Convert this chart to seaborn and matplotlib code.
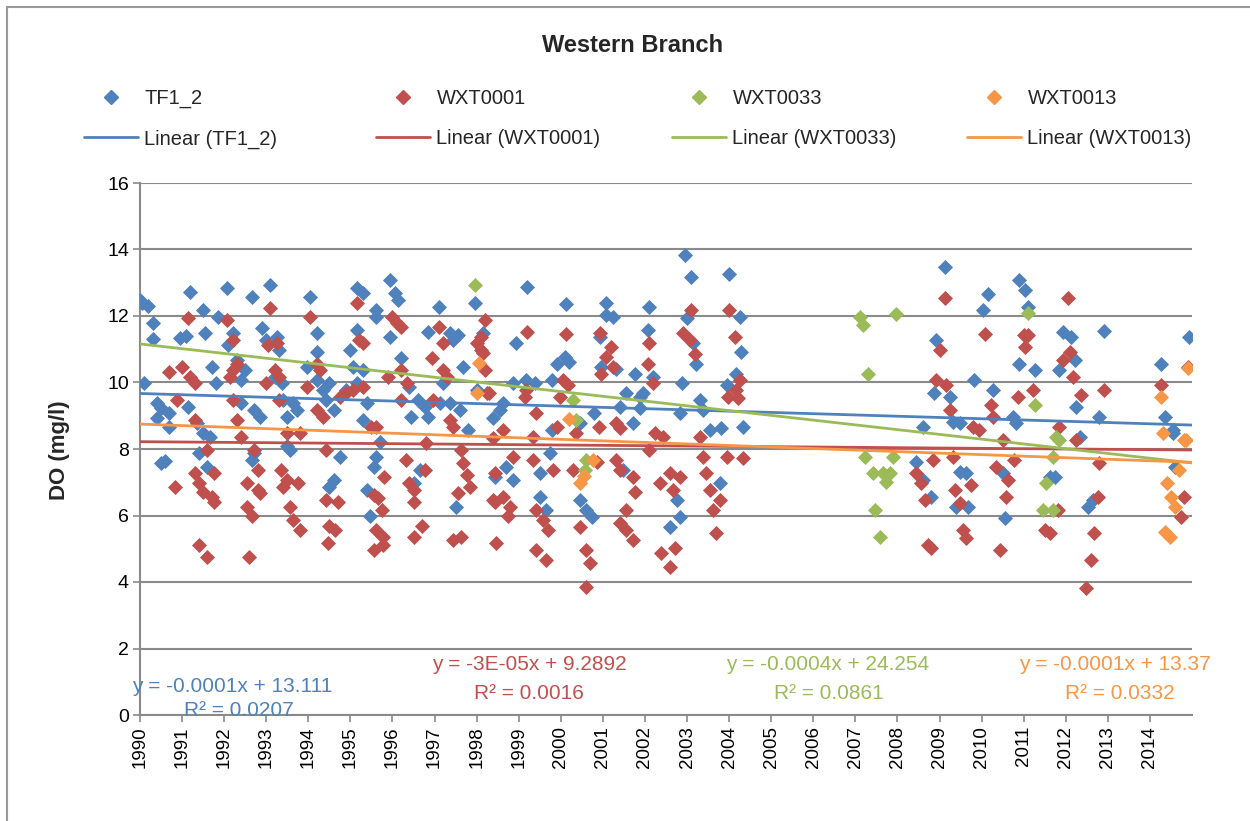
import numpy as np
import pandas as pd
import matplotlib
matplotlib.use("Agg")
import matplotlib.pyplot as plt
from matplotlib.lines import Line2D
import seaborn as sns

# ---------------- data (decimal year, DO mg/l) ----------------
tf1_2_x = [1990.0, 1990.05, 1990.2, 1990.3, 1990.3, 1990.1, 1990.4, 1990.5, 1990.7, 1990.4, 1990.7, 1990.5, 1990.6,
           1991.2, 1991.5, 1991.55, 1990.95, 1991.1, 1991.7, 1991.15, 1991.35, 1991.5, 1991.66, 1991.8, 1991.4, 1991.6,
           1992.06, 1991.86, 1992.2, 1992.1, 1992.3, 1992.5, 1992.4, 1992.4, 1992.7, 1992.85, 1992.7, 1992.65,
           1992.65, 1993.1, 1992.9, 1993.0, 1993.25, 1993.3, 1993.2, 1993.37, 1993.4, 1993.64, 1993.72, 1993.5, 1993.56, 1993.5,
           1994.04, 1994.2, 1994.2, 1993.96, 1994.2, 1994.35, 1994.43, 1994.6, 1994.5, 1994.6, 1994.5, 1994.75,
           1995.15, 1995.3, 1995.15, 1995.0, 1995.06, 1995.3, 1995.15, 1994.9, 1995.4, 1995.3, 1995.6, 1995.55, 1995.4, 1995.47, 1995.7,
           1995.6, 1995.6, 1995.94, 1996.06, 1996.14, 1995.94, 1996.2, 1996.4, 1996.45, 1996.6, 1996.77, 1996.85, 1996.65, 1996.5,
           1997.1, 1996.85, 1997.36, 1997.56, 1997.44, 1997.2, 1997.36, 1997.6, 1997.13, 1997.68, 1997.8, 1997.52,
           1997.96, 1998.15, 1998.0, 1998.4, 1998.43, 1998.7, 1998.87,
           1998.55, 1998.63, 1998.87, 1998.93, 1999.2, 1999.18, 1999.38, 1999.78, 1999.78, 1999.5, 1999.74, 1999.5, 1999.66,
           1999.9, 2000.1, 2000.2, 2000.12, 2000.45, 2000.8, 2000.45, 2000.61, 2000.73,
           2000.93, 2000.96, 2001.08, 2001.08, 2001.24, 2001.32, 2001.4, 2001.56, 2001.72, 2001.76, 2001.48,
           2001.88, 2001.96, 2001.88, 2002.07, 2002.1, 2002.2, 2002.75, 2002.83, 2002.59,
           2002.83, 2002.87, 2002.95, 2003.0, 2003.1, 2003.14, 2003.22, 2003.3, 2003.38, 2003.54, 2003.8, 2003.78,
           2003.94, 2004.0, 2004.17, 2004.25, 2004.29, 2004.33,
           2008.6, 2008.45, 2008.6, 2008.8, 2008.88, 2008.92, 2009.12, 2009.24, 2009.32, 2009.48, 2009.48, 2009.64, 2009.4, 2009.68,
           2009.83, 2010.03, 2010.15, 2010.27, 2010.51, 2010.55, 2010.74, 2010.82, 2010.9, 2010.9, 2011.02, 2011.1, 2011.26,
           2011.62, 2011.74, 2011.85, 2011.93, 2012.13, 2012.21, 2012.25, 2012.33, 2012.53, 2012.65, 2012.8, 2012.92,
           2014.27, 2014.35, 2014.55, 2014.59, 2014.55, 2014.94]
tf1_2_y = [12.48, 12.4, 12.3, 11.8, 11.3, 9.97, 9.37, 9.22, 9.07, 8.92, 8.67, 7.57, 7.65,
           12.73, 12.18, 11.48, 11.33, 11.4, 10.48, 9.27, 8.77, 8.47, 8.37, 9.97, 7.87, 7.47,
           12.83, 11.98, 11.48, 11.13, 10.67, 10.37, 10.07, 9.37, 9.17, 8.97, 7.87, 7.67,
           12.58, 12.93, 11.63, 11.28, 11.38, 10.98, 10.17, 9.97, 9.47, 9.37, 9.17, 8.97, 7.97, 8.1,
           12.58, 11.48, 10.93, 10.48, 10.07, 9.77, 9.47, 9.17, 9.97, 7.07, 6.87, 7.77,
           12.83, 12.68, 11.58, 10.98, 10.48, 10.37, 9.97, 9.77, 9.37, 8.87, 7.77, 7.47, 6.77, 5.97, 8.22,
           12.18, 11.98, 13.08, 12.68, 12.48, 11.38, 10.73, 9.87, 8.97, 9.47, 9.27, 8.97, 7.37, 6.97,
           12.28, 11.53, 11.48, 11.43, 11.28, 9.97, 9.37, 9.17, 9.37, 10.48, 8.57, 6.27,
           12.38, 11.48, 9.77, 8.92, 7.17, 7.47, 7.07,
           9.17, 9.37, 9.97, 11.18, 12.86, 10.07, 9.97, 10.07, 8.57, 7.27, 7.87, 6.57, 6.17,
           10.57, 10.77, 10.63, 12.36, 8.77, 9.07, 6.47, 6.17, 5.96,
           11.38, 10.48, 12.38, 12.03, 11.98, 10.42, 9.27, 9.67, 8.77, 10.27, 7.37,
           9.57, 9.67, 9.22, 11.58, 12.26, 10.17, 6.47, 5.96, 5.66,
           9.07, 9.97, 13.83, 11.93, 13.16, 11.18, 10.57, 9.47, 9.17, 8.57, 8.62, 6.97,
           9.92, 13.26, 10.27, 11.98, 10.93, 8.67,
           8.67, 7.62, 7.07, 6.57, 9.67, 11.28, 13.48, 9.57, 8.82, 8.77, 7.32, 7.27, 6.27, 6.27,
           10.07, 12.18, 12.66, 9.77, 7.27, 5.91, 8.97, 8.77, 13.08, 10.57, 12.78, 12.28, 10.37,
           7.17, 7.17, 10.37, 11.53, 11.38, 10.67, 9.27, 8.37, 6.27, 6.47, 8.97, 11.55,
           10.57, 8.97, 8.57, 7.47, 8.47, 11.38]

wxt0001_x = [1990.7, 1991.0, 1991.2, 1991.3, 1990.87, 1991.3, 1991.15, 1990.83, 1991.3, 1991.4, 1991.5, 1991.6, 1991.75, 1991.7, 1991.75, 1991.4, 1991.6,
             1992.06, 1992.2, 1992.2, 1992.3, 1992.14, 1992.2, 1992.3, 1992.4, 1992.7, 1992.8, 1992.55, 1992.8, 1992.85, 1992.55, 1992.65, 1992.6,
             1993.1, 1993.05, 1993.25, 1993.2, 1993.3, 1993.0, 1993.3, 1993.5, 1993.8, 1993.96, 1993.36, 1993.5, 1993.4, 1993.76, 1993.56, 1993.64, 1993.8,
             1994.04, 1994.2, 1994.27, 1994.2, 1994.35, 1994.75, 1994.9, 1994.43, 1994.43, 1994.7, 1994.5, 1994.63, 1994.47,
             1995.06, 1995.3, 1995.15, 1995.2, 1995.3, 1995.5, 1995.6, 1995.55, 1995.66, 1995.74, 1995.62, 1995.78, 1995.55, 1995.78, 1995.8,
             1995.9, 1996.0, 1996.1, 1996.2, 1996.2, 1996.2, 1996.35, 1996.33, 1996.4, 1996.5, 1996.5, 1996.7, 1996.5, 1996.77, 1996.8,
             1996.97, 1996.93, 1997.1, 1997.2, 1997.2, 1997.3, 1997.36, 1997.44, 1997.64, 1997.68, 1997.76, 1997.56, 1997.84, 1997.44, 1997.64,
             1998.0, 1998.1, 1998.2, 1998.15, 1998.2, 1998.25, 1998.1, 1998.3, 1998.43, 1998.47, 1998.4, 1998.87, 1998.43, 1998.4, 1998.63, 1998.79, 1998.75, 1998.63,
             1999.2, 1999.15, 1999.42, 1999.18, 1999.34, 1999.34, 1999.82, 1999.42, 1999.58, 1999.7, 1999.42, 1999.66,
             2000.12, 2000.06, 2000.18, 1999.98, 1999.9, 2000.37, 2000.29, 2000.45, 2000.61, 2000.69, 2000.61, 2000.85,
             2000.93, 2001.2, 2001.08, 2001.24, 2000.96, 2000.9, 2001.32, 2001.4, 2001.32, 2001.4, 2001.72, 2001.76, 2001.56, 2001.4, 2001.56, 2001.72,
             2002.1, 2002.07, 2002.2, 2002.23, 2002.43, 2002.1, 2002.35, 2002.59, 2002.83, 2002.67, 2002.39, 2002.71, 2002.59,
             2003.1, 2002.9, 2003.06, 2003.18, 2003.3, 2003.38, 2003.46, 2003.54, 2003.78, 2003.62, 2003.7,
             2004.0, 2004.13, 2004.25, 2004.17, 2003.98, 2004.21, 2003.94, 2004.33,
             2008.45, 2008.57, 2008.65, 2008.73, 2008.8, 2008.84, 2008.92, 2009.0, 2009.12, 2009.16, 2009.24, 2009.32, 2009.36, 2009.48, 2009.56, 2009.64, 2009.75, 2009.79, 2009.95,
             2010.07, 2010.23, 2010.27, 2010.35, 2010.43, 2010.59, 2010.62, 2010.78, 2010.51, 2010.86, 2011.0, 2011.1, 2011.02, 2011.22,
             2011.5, 2011.62, 2011.82, 2011.85, 2011.93, 2012.05, 2012.09, 2012.17, 2012.25, 2012.37, 2012.68, 2012.6, 2012.49, 2012.77, 2012.8, 2012.92,
             2014.27, 2014.74, 2014.82, 2014.9]
wxt0001_y = [10.33, 10.48, 10.17, 9.97, 9.47, 8.87, 11.93, 6.87, 7.27, 6.97, 6.72, 7.97, 7.27, 6.57, 6.42, 5.11, 4.76,
             11.88, 11.28, 10.37, 10.57, 10.17, 9.47, 8.87, 8.37, 7.97, 7.37, 6.97, 6.77, 6.67, 6.27, 5.97, 4.76,
             12.23, 11.13, 11.18, 10.37, 10.17, 9.97, 9.47, 8.47, 8.47, 9.87, 7.37, 7.07, 6.87, 6.97, 6.27, 5.87, 5.57,
             11.98, 10.57, 10.37, 9.17, 8.97, 9.57, 9.67, 7.97, 6.47, 6.42, 5.67, 5.57, 5.16,
             9.77, 9.87, 12.38, 11.28, 11.18, 8.67, 8.67, 6.61, 6.52, 6.17, 5.56, 5.36, 4.96, 5.11, 7.17,
             10.17, 11.98, 11.78, 11.68, 10.37, 9.47, 9.97, 7.67, 6.97, 6.77, 6.42, 5.67, 5.36, 7.37, 8.17,
             9.47, 10.73, 11.68, 11.18, 10.37, 10.17, 8.87, 8.67, 7.97, 7.57, 7.22, 6.67, 6.87, 5.26, 5.36,
             11.18, 11.38, 11.88, 10.88, 10.37, 9.67, 10.98, 9.67, 6.42, 5.16, 8.32, 7.77, 7.27, 6.47, 6.57, 6.27, 5.97, 8.57,
             11.53, 9.57, 9.07, 9.77, 8.37, 7.67, 7.37, 6.17, 5.87, 5.56, 4.96, 4.66,
             11.46, 10.07, 9.92, 9.57, 8.67, 8.47, 7.37, 5.66, 4.96, 4.56, 3.86, 7.62,
             11.48, 11.08, 10.77, 10.48, 10.27, 8.67, 8.77, 8.62, 7.67, 7.37, 7.17, 6.72, 6.17, 5.76, 5.56, 5.26,
             11.18, 10.57, 9.97, 8.47, 8.37, 7.97, 6.97, 7.27, 7.17, 6.77, 4.86, 5.01, 4.46,
             12.18, 11.48, 11.28, 10.87, 8.37, 7.77, 7.27, 6.77, 6.47, 6.17, 5.46,
             12.18, 11.38, 10.07, 9.77, 9.57, 9.52, 7.77, 7.72,
             7.27, 6.97, 6.47, 5.11, 5.01, 7.67, 10.07, 10.98, 12.53, 9.92, 9.17, 7.77, 6.77, 6.37, 5.56, 5.31, 6.92, 8.67, 8.57,
             11.46, 9.32, 8.97, 7.47, 4.96, 6.57, 7.07, 7.67, 8.27, 9.57, 11.43, 11.43, 11.08, 9.77,
             5.56, 5.46, 6.17, 8.67, 10.67, 12.53, 10.93, 10.17, 8.27, 9.62, 5.46, 4.66, 3.81, 6.57, 7.57, 9.77,
             9.92, 5.96, 6.57, 10.48]

wxt0033_x = [1997.96, 2000.3, 2000.37, 2000.61, 2000.57, 2007.1, 2007.18, 2007.3, 2007.22, 2007.42, 2007.66, 2007.74,
             2007.82, 2007.9, 2007.46, 2007.58, 2007.97, 2011.1, 2011.26, 2011.77, 2011.54, 2011.46, 2011.7, 2011.85, 2011.7]
wxt0033_y = [12.93, 9.47, 8.87, 7.67, 7.37, 11.98, 11.73, 10.27, 7.77, 7.27, 7.27, 7.02,
             7.27, 7.77, 6.17, 5.36, 12.05, 12.08, 9.32, 8.37, 6.97, 6.17, 6.17, 8.27, 7.77]

wxt0013_x = [1998.0, 1998.05, 2000.2, 2000.77, 2000.45, 2000.55, 2014.27, 2014.31, 2014.86, 2014.4, 2014.5,
             2014.59, 2014.47, 2014.7, 2014.82, 2014.9, 2014.35]
wxt0013_y = [9.67, 10.6, 8.9, 7.67, 6.97, 7.2, 9.57, 8.47, 8.27, 6.97, 6.57,
             6.27, 5.36, 7.37, 8.27, 10.43, 5.5]

series_names = ["TF1_2", "WXT0001", "WXT0033", "WXT0013"]
# linear trend values read at the start (1990) and end (2015) of the axis
trend_years = [1990.0, 2015.0]
trend_start = [9.67, 8.22, 11.16, 8.75]
trend_end = [8.72, 7.97, 7.58, 7.60]
equations = ["y = -0.0001x + 13.111", "y = -3E-05x + 9.2892", "y = -0.0004x + 24.254", "y = -0.0001x + 13.37"]
r_squared = ["R² = 0.0207", "R² = 0.0016", "R² = 0.0861", "R² = 0.0332"]
year_ticks = list(range(1990, 2015))
y_ticks = [0, 2, 4, 6, 8, 10, 12, 14, 16]

colors = ["#4F81BD", "#C0504D", "#9BBB59", "#F79646"]

# ---------------- figure ----------------
sns.set_theme(style="white")
plt.rcParams['font.family'] = ['Liberation Sans', 'DejaVu Sans']

W, H = 1250, 821
fig = plt.figure(figsize=(W / 100, H / 100), dpi=100)
ax = fig.add_axes([140 / W, 1 - 715 / H, (1192 - 140) / W, (715 - 183) / H])

xs = [tf1_2_x, wxt0001_x, wxt0033_x, wxt0013_x]
ys = [tf1_2_y, wxt0001_y, wxt0033_y, wxt0013_y]

for name, x, y, c in zip(series_names, xs, ys, colors):
    df = pd.DataFrame({"year": x, "DO": y})
    sns.scatterplot(data=df, x="year", y="DO", ax=ax, marker="D", s=50,
                    color=c, edgecolor=c, linewidth=0.6, zorder=3, legend=False)

for name, a, b, c in zip(series_names, trend_start, trend_end, colors):
    tdf = pd.DataFrame({"year": trend_years, "DO": [a, b]})
    sns.lineplot(data=tdf, x="year", y="DO", ax=ax, color=c, linewidth=2.0,
                 zorder=4, legend=False)

ax.set_xlim(1990, 2015)
ax.set_ylim(0, 16)
ax.set_xticks(year_ticks)
ax.set_xticklabels([str(t) for t in year_ticks], rotation=90, fontsize=13.5)
ax.set_yticks(y_ticks)
ax.set_yticklabels([str(t) for t in y_ticks], fontsize=14)
ax.set_xlabel("")
ax.set_ylabel("")
ax.grid(axis="y", color="#8a8a8a", linewidth=1.5)
ax.grid(axis="x", visible=False)
ax.set_axisbelow(True)
for side in ["top", "right"]:
    ax.spines[side].set_visible(False)
for side in ["left", "bottom"]:
    ax.spines[side].set_color("#8a8a8a")
    ax.spines[side].set_linewidth(1.5)
ax.tick_params(axis="both", which="major", direction="out", length=5,
               width=1.2, color="#8a8a8a", labelcolor="black", pad=3)
ax.tick_params(axis="x", bottom=True)
ax.tick_params(axis="y", left=True)

# equations
eq_pos = [(1992.18, 0.87, 1992.35, 0.15), (1999.26, 1.53, 1999.24, 0.66),
          (2006.34, 1.53, 2006.37, 0.66), (2013.16, 1.53, 2013.28, 0.66)]
for (ex, ey, rx, ry), eq, r2, c in zip(eq_pos, equations, r_squared, colors):
    ax.text(ex, ey, eq, color=c, fontsize=15, ha="center", va="center", zorder=5, clip_on=False)
    ax.text(rx, ry, r2, color=c, fontsize=15, ha="center", va="center", zorder=5, clip_on=False)

# title and y label
fig.text(0.506, 1 - 45 / H, "Western Branch", ha="center", va="center",
         fontsize=17, fontweight="bold")
fig.text(60 / W, 1 - 450 / H, "DO (mg/l)", ha="center", va="center",
         rotation=90, fontsize=16, fontweight="bold")

# legends, one per series column
leg_x = [84, 376, 672, 967]
for lx, name, c in zip(leg_x, series_names, colors):
    handles = [Line2D([], [], marker="D", linestyle="none", color=c, markersize=7),
               Line2D([], [], color=c, linewidth=2.0)]
    labels = [name, f"Linear ({name})"]
    fig.legend(handles, labels, loc="upper left", bbox_to_anchor=(lx / W, 1 - 89 / H),
               frameon=False, fontsize=14.5, handlelength=2.7, handletextpad=0.3,
               borderpad=0, borderaxespad=0, labelspacing=1.05)

# outer chart border (top and left visible)
fig.add_artist(Line2D([7 / W, 1.0], [1 - 7 / H, 1 - 7 / H], transform=fig.transFigure,
                      color="#9a9a9a", linewidth=1.5))
fig.add_artist(Line2D([7 / W, 7 / W], [0, 1 - 7 / H], transform=fig.transFigure,
                      color="#9a9a9a", linewidth=1.5))

fig.savefig("out.png", dpi=100)
